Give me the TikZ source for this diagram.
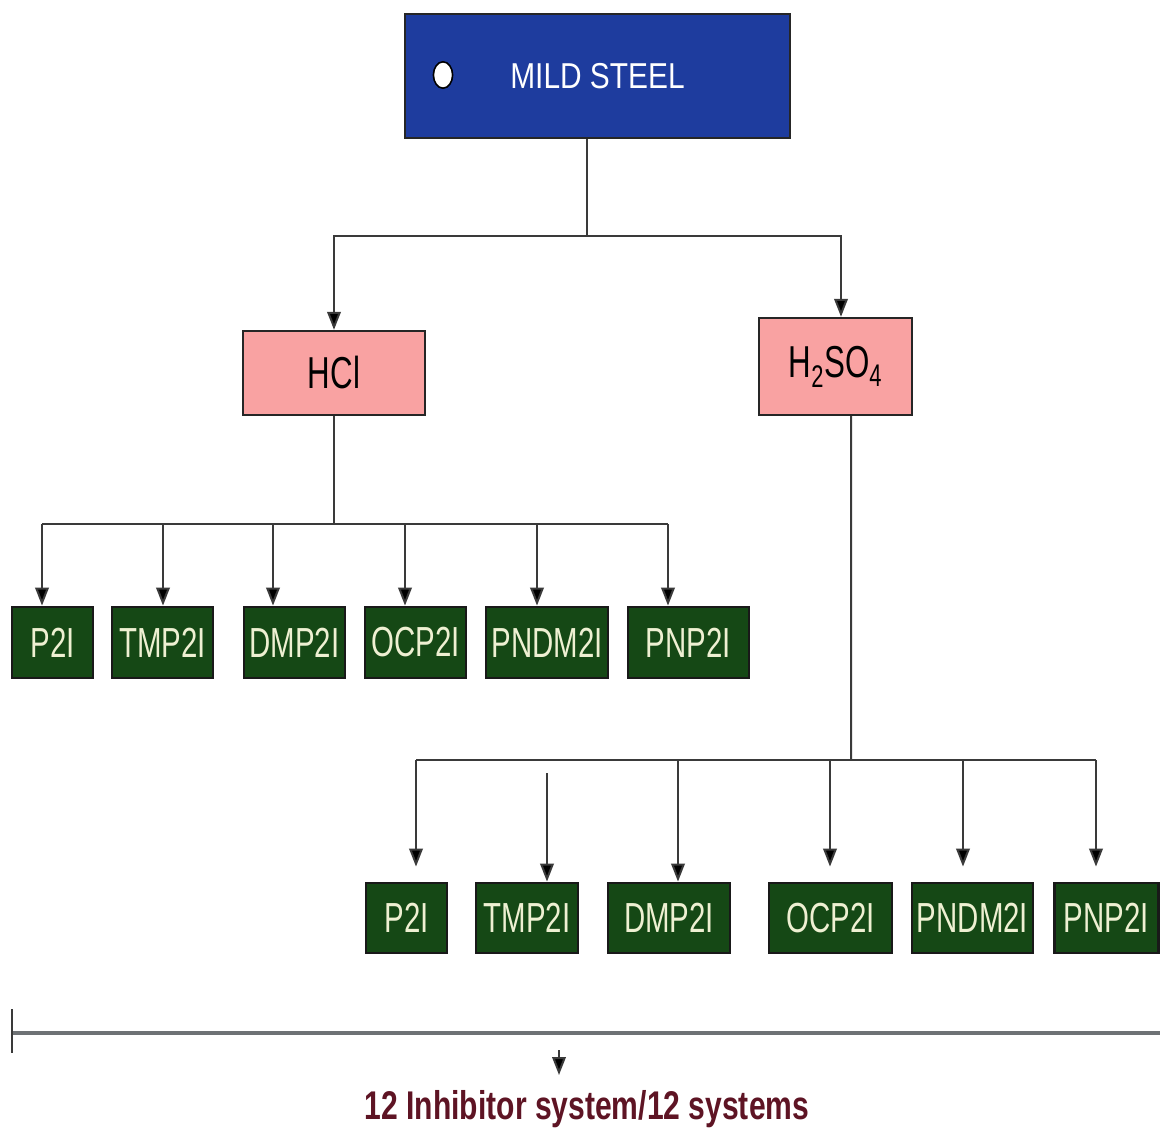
\documentclass[tikz,border=0pt]{standalone}
\usepackage{fontspec}
\usepackage{tikz}
\usetikzlibrary{arrows.meta,positioning,calc,shapes.geometric}
\setmainfont{Liberation Sans}
\newfontfamily\topfont[FakeStretch=0.83]{Liberation Sans}
\newfontfamily\boxfont[FakeStretch=0.7]{Liberation Sans}
\newfontfamily\notefont[FakeStretch=0.75]{Liberation Sans}
\definecolor{steelblue}{HTML}{1E3C9E}
\definecolor{acidpink}{HTML}{F9A2A2}
\definecolor{inhgreen}{HTML}{154815}
\definecolor{inhtext}{HTML}{EEF0D2}
\definecolor{wire}{HTML}{3A3A3A}
\definecolor{maroon}{HTML}{5E1424}
\definecolor{rulegrey}{HTML}{6E7275}
\tikzset{
  steelbox/.style={fill=steelblue,draw=black!85,line width=0.06cm,inner sep=0pt,
    minimum width=9.625cm,minimum height=3.1cm,text=white,
    font=\topfont\fontsize{25.6}{28}\selectfont},
  acidbox/.style={fill=acidpink,draw=black!85,line width=0.06cm,inner sep=0pt,
    font=\boxfont\fontsize{31.8}{34}\selectfont},
  inhbox/.style={fill=inhgreen,draw=black!90,line width=0.07cm,inner sep=0pt,
    text=inhtext,font=\boxfont\fontsize{29.9}{32}\selectfont},
  link/.style={wire,line width=0.05cm},
  arr/.style={wire,line width=0.05cm,-{Triangle[length=0.45cm,width=0.34cm,fill=black]}},
}
\begin{document}
\begin{tikzpicture}[x=0.025cm,y=-0.025cm]
  \useasboundingbox (0,0) rectangle (1160,1130);
  % top material
  \node[steelbox] (steel) at (597.5,76) {MILD STEEL};
  \node[ellipse,fill=white,draw=black,line width=0.04cm,inner sep=0pt,
    minimum width=0.48cm,minimum height=0.66cm] (dot) at (443,75) {};
  % acids
  \node[acidbox,minimum width=4.55cm,minimum height=2.1cm] (hcl) at (334,373) {HCl};
  \node[acidbox,minimum width=3.825cm,minimum height=2.425cm] (hso) at (835.5,366.5)
    {H\textsubscript{2}SO\textsubscript{4}};
  \coordinate (topbus) at (587,236);
  \draw[link] (topbus |- steel.south) -- (topbus);
  \draw[arr] (topbus) -| (hcl.north);
  \draw[arr] (topbus) -| ($(hso.north)+(5.5,0)$);
  % HCl inhibitors
  \node[inhbox,minimum width=2.025cm,minimum height=1.775cm] (hp2i) at (52.5,642.5) {P2I};
  \node[inhbox,minimum width=2.525cm,minimum height=1.775cm] (htmp2i) at (162.5,642.5) {TMP2I};
  \node[inhbox,minimum width=2.525cm,minimum height=1.775cm] (hdmp2i) at (294.5,642.5) {DMP2I};
  \node[inhbox,minimum width=2.525cm,minimum height=1.775cm] (hocp2i) at (415.5,642.5) {OCP2I};
  \node[inhbox,minimum width=3.05cm,minimum height=1.775cm] (hpndm2i) at (547,642.5) {PNDM2I};
  \node[inhbox,minimum width=3.025cm,minimum height=1.775cm] (hpnp2i) at (688.5,642.5) {PNP2I};
  \coordinate (hbus) at (334,524);
  \coordinate (hk1) at (42,524);
  \coordinate (hk2) at (163,524);
  \coordinate (hk3) at (273,524);
  \coordinate (hk4) at (405,524);
  \coordinate (hk5) at (537,524);
  \coordinate (hk6) at (668,524);
  \draw[link] (hcl.south) -- (hbus);
  \draw[link] (hk1) -- (hk6);
  \draw[arr] (hk1) -- (hk1 |- hp2i.north);
  \draw[arr] (hk2) -- (hk2 |- htmp2i.north);
  \draw[arr] (hk3) -- (hk3 |- hdmp2i.north);
  \draw[arr] (hk4) -- (hk4 |- hocp2i.north);
  \draw[arr] (hk5) -- (hk5 |- hpndm2i.north);
  \draw[arr] (hk6) -- (hk6 |- hpnp2i.north);
  % H2SO4 inhibitors
  \node[inhbox,minimum width=2.025cm,minimum height=1.75cm] (sp2i) at (406.5,918) {P2I};
  \node[inhbox,minimum width=2.55cm,minimum height=1.75cm] (stmp2i) at (527,918) {TMP2I};
  \node[inhbox,minimum width=3.05cm,minimum height=1.75cm] (sdmp2i) at (669,918) {DMP2I};
  \node[inhbox,minimum width=3.075cm,minimum height=1.75cm] (socp2i) at (830.5,918) {OCP2I};
  \node[inhbox,minimum width=3.025cm,minimum height=1.75cm] (spndm2i) at (972.5,918) {PNDM2I};
  \node[inhbox,minimum width=2.6cm,minimum height=1.75cm] (spnp2i) at (1106.5,918) {PNP2I};
  \coordinate (hsodown) at ($(hso.south)+(15.5,0)$);
  \coordinate (sbus) at (851,760);
  \coordinate (sk1) at (416,760);
  \coordinate (sk2) at (547,773);
  \coordinate (sk3) at (678,760);
  \coordinate (sk4) at (830,760);
  \coordinate (sk5) at (963,760);
  \coordinate (sk6) at (1096,760);
  \draw[link] (hsodown) -- (sbus);
  \draw[link] (sk1) -- (sk6);
  \draw[arr,shorten >=0.375cm] (sk1) -- (sk1 |- sp2i.north);
  \draw[arr] (sk2) -- (sk2 |- stmp2i.north);
  \draw[arr] (sk3) -- (sk3 |- sdmp2i.north);
  \draw[arr,shorten >=0.375cm] (sk4) -- (sk4 |- socp2i.north);
  \draw[arr,shorten >=0.375cm] (sk5) -- (sk5 |- spndm2i.north);
  \draw[arr,shorten >=0.375cm] (sk6) -- (sk6 |- spnp2i.north);
  % total
  \coordinate (lineL) at (12,1033);
  \coordinate (lineR) at (1160,1033);
  \draw[rulegrey,line width=0.1cm] (lineL) -- (lineR);
  \draw[wire,line width=0.04cm] ($(lineL)+(0,-24)$) -- ($(lineL)+(0,20)$);
  \node[text=maroon,font=\notefont\bfseries\fontsize{28.5}{30}\selectfont] (note) at (587,1109)
    {12 Inhibitor system/12 systems};
  \coordinate (dn) at (559,1050);
  \coordinate (dnend) at (559,1075);
  \draw[arr] (dn) -- (dnend);
\end{tikzpicture}
\end{document}
